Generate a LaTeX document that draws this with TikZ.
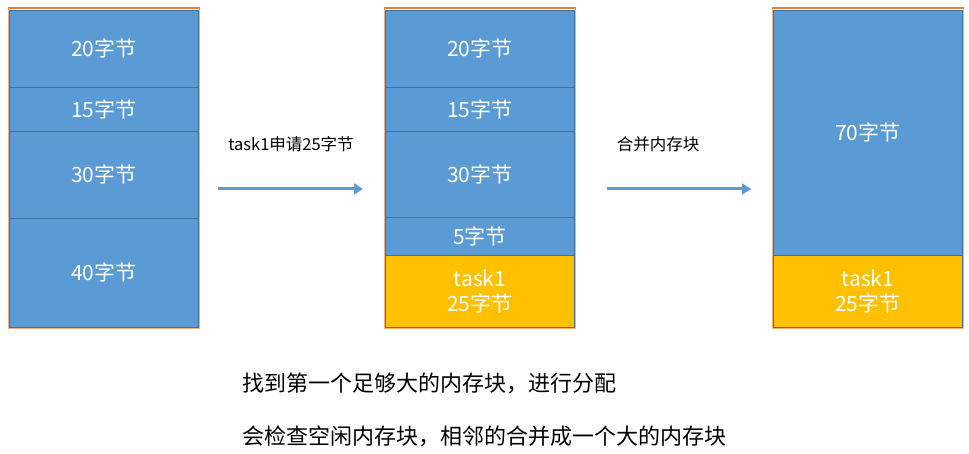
\documentclass[tikz,border=0pt]{standalone}
\usepackage{fontspec}
\setmainfont{Noto Sans CJK SC}
\usetikzlibrary{arrows.meta}
\definecolor{blkblue}{HTML}{5B9BD5}
\definecolor{blkedge}{HTML}{41719C}
\definecolor{taskyel}{HTML}{FFC000}
\definecolor{frameorg}{HTML}{F4B183}
\definecolor{topline}{HTML}{ED7D31}

\begin{document}
\begin{tikzpicture}[x=1pt,y=-1pt]
\tikzstyle{every node}+=[inner sep=0pt]
\tikzstyle{colframe}=[draw=frameorg, line width=1pt, anchor=north west, minimum width=191pt]
\tikzstyle{blk}=[draw=blkedge, line width=0.8pt, fill=blkblue, text=white, anchor=north west, minimum width=189pt, align=center, font=\fontsize{21}{25}\selectfont]
\tikzstyle{task}=[blk, fill=taskyel]
\tikzstyle{step arrow}=[draw=blkblue, line width=3pt, -{Triangle[length=9pt,width=11pt]}]
\tikzstyle{lab}=[font=\fontsize{16.5}{19}\selectfont]
\tikzstyle{note}=[anchor=west, font=\fontsize{22}{26}\selectfont]
\useasboundingbox (0,0) rectangle (969,454);
% left column
\node[colframe, minimum height=320pt] (lframe) at (8,8) {};
\draw[topline, line width=2pt] (lframe.north west) -- (lframe.north east);
\node[blk, minimum height=77pt] (l20) at (9,10) {20字节};
\node[blk, minimum height=44pt] (l15) at (9,87) {15字节};
\node[blk, minimum height=87pt] (l30) at (9,131) {30字节};
\node[blk, minimum height=109pt] (l40) at (9,218) {40字节};
% middle column
\node[colframe, minimum height=320pt] (mframe) at (384,8) {};
\draw[topline, line width=2pt] (mframe.north west) -- (mframe.north east);
\node[blk, minimum height=77pt] (m20) at (385,10) {20字节};
\node[blk, minimum height=44pt] (m15) at (385,87) {15字节};
\node[blk, minimum height=86pt] (m30) at (385,131) {30字节};
\node[blk, minimum height=38pt] (m5) at (385,217) {5字节};
\node[task, minimum height=72pt] (mtask) at (385,255) {task1\\25字节};
% right column
\node[colframe, minimum height=320pt] (rframe) at (772,8) {};
\draw[topline, line width=2pt] (rframe.north west) -- (rframe.north east);
\node[blk, minimum height=245pt] (r70) at (773,10) {70字节};
\node[task, minimum height=72pt] (rtask) at (773,255) {task1\\25字节};
% arrows
\coordinate (a1s) at (218,189);
\coordinate (a1e) at (363,189);
\coordinate (a2s) at (607,189);
\coordinate (a2e) at (751,189);
\draw[step arrow] (a1s) -- (a1e);
\draw[step arrow] (a2s) -- (a2e);
\node[lab] (lab1) at (291,144) {task1申请25字节};
\node[lab] (lab2) at (658,144) {合并内存块};
% notes
\node[note] (note1) at (242,383) {找到第一个足够大的内存块，进行分配};
\node[note] (note2) at (242,436) {会检查空闲内存块，相邻的合并成一个大的内存块};
\end{tikzpicture}
\end{document}
